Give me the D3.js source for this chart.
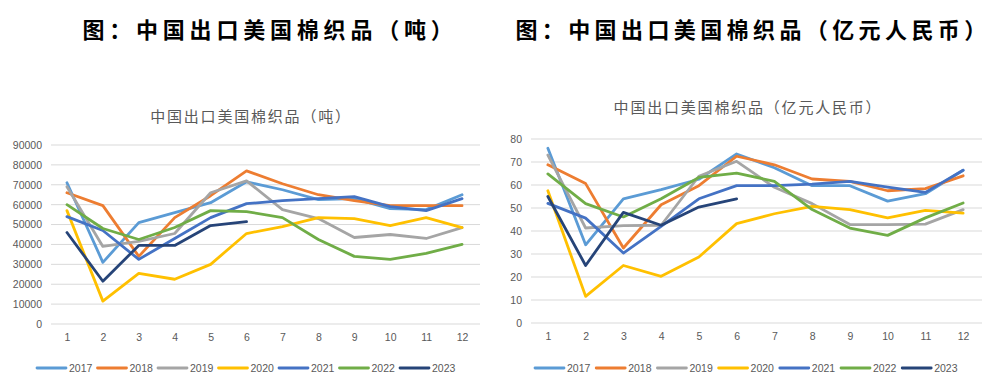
<!DOCTYPE html>
<html><head><meta charset="utf-8">
<script src="https://cdn.jsdelivr.net/npm/d3@7"></script>
<style>
html,body{margin:0;padding:0;background:#fff;}
svg{display:block;}
</style></head>
<body>
<svg id="c" width="997" height="389"></svg>
<script>
const months = [1,2,3,4,5,6,7,8,9,10,11,12];
const years = ["2017","2018","2019","2020","2021","2022","2023"];
const colors = ["#5B9BD5","#ED7D31","#A5A5A5","#FFC000","#4472C4","#70AD47","#264478"];

// 吨
const tons2017 = [71000,31000,51000,56000,61000,71500,67500,62500,63000,58000,57500,65000];
const tons2018 = [66000,59500,34000,53500,64500,77000,70500,65000,62000,59500,59500,59500];
const tons2019 = [69000,39000,41500,45500,66000,72000,57500,53000,43500,45000,43000,48500];
const tons2020 = [57000,11500,25500,22500,30000,45500,49000,53500,53000,49500,53500,48500];
const tons2021 = [54000,47000,32500,43000,53500,60500,62000,63000,64000,59000,57000,63000];
const tons2022 = [60000,48000,42500,48500,57000,56500,53500,42500,34000,32500,35500,40000];
const tons2023 = [46000,21500,39500,39500,49500,51500];
const tonTicks = [0,10000,20000,30000,40000,50000,60000,70000,80000,90000];

// 亿元人民币
const rmb2017 = [76,34,54,58,62.5,73.5,67.5,59.7,59.7,53,56.2,66.4];
const rmb2018 = [68.8,60.6,32.6,51.4,59.7,72.5,68.8,62.6,61.6,57.5,58.4,64];
const rmb2019 = [73,41.3,42.3,42.5,63.8,70.3,59,51.9,42.8,42.8,43,49.3];
const rmb2020 = [57.5,11.6,25,20.3,28.7,43.2,47.5,50.7,49.3,45.7,49,47.8];
const rmb2021 = [52,45.6,30.4,42,54,59.7,59.7,60.4,61.6,59.1,56.8,66.4];
const rmb2022 = [64.8,51.9,46.1,54,63.3,65.2,61.6,49.3,41.3,38.1,45.7,52.2];
const rmb2023 = [55,25,48.1,42.5,50.4,54];
const rmbTicks = [0,10,20,30,40,50,60,70,80];

const svg = d3.select("#c");

function drawChart(o){
  const g = svg.append("g");
  // big heading
  g.append("text").attr("x",o.headX).attr("y",38).attr("text-anchor","middle")
    .attr("font-family","'Noto Sans CJK SC'").attr("font-weight",600)
    .attr("font-size",22).attr("letter-spacing",o.headLS).attr("fill","#000").text(o.heading);
  // inner title
  g.append("text").attr("x",o.subX).attr("y",o.subY).attr("text-anchor","middle")
    .attr("font-family","'Noto Sans CJK SC'").attr("font-size",15).attr("letter-spacing",1.8)
    .attr("fill","#595959").text(o.sub);

  const x = d3.scalePoint().domain(months).range([o.x0,o.x1]).padding(0.5);
  const y = d3.scaleLinear().domain([0,o.ymax]).range([o.yb,o.yt]);

  // grid
  g.append("g").selectAll("line").data(o.ticks).join("line")
    .attr("x1",o.x0+2).attr("x2",o.x1).attr("y1",d=>y(d)).attr("y2",d=>y(d))
    .attr("stroke","#D9D9D9").attr("stroke-width",1);

  // y axis labels
  const ya = d3.axisLeft(y).tickValues(o.ticks).tickSize(0).tickPadding(0).tickFormat(d3.format("d"));
  const yg = g.append("g").attr("transform",`translate(${o.ylabX},0)`).call(ya);
  yg.select(".domain").remove();
  yg.selectAll("text").attr("font-family","'Liberation Sans'").attr("font-size",10.5).attr("fill","#595959");

  // x axis labels
  const xa = d3.axisBottom(x).tickSize(0).tickPadding(0);
  const xg = g.append("g").attr("transform",`translate(0,${o.xlabY})`).call(xa);
  xg.select(".domain").remove();
  xg.selectAll("text").attr("font-family","'Liberation Sans'").attr("font-size",10.5).attr("fill","#595959");

  const line = d3.line().x((d,i)=>x(months[i])).y(d=>y(d));
  o.series.forEach((s,i)=>{
    g.append("path").attr("d",line(s)).attr("fill","none").attr("stroke",colors[i])
      .attr("stroke-width",2.8).attr("stroke-linejoin","round").attr("stroke-linecap","round");
  });

  // legend
  const lg = g.append("g");
  years.forEach((yr,i)=>{
    const lx = o.legX + i*o.legStep;
    lg.append("line").attr("x1",lx).attr("x2",lx+29).attr("y1",368).attr("y2",368)
      .attr("stroke",colors[i]).attr("stroke-width",2.8).attr("stroke-linecap","round");
    lg.append("text").attr("x",lx+32).attr("y",372).attr("font-family","'Liberation Sans'")
      .attr("font-size",10.5).attr("fill","#595959").text(yr);
  });
}

drawChart({
  heading:"图：中国出口美国棉织品（吨）", headX:270, headLS:4.8,
  sub:"中国出口美国棉织品（吨）", subX:251, subY:122,
  x0:49, x1:480, yt:145, yb:324, ymax:90000, ticks:tonTicks, ylabX:42, xlabY:334,
  series:[tons2017,tons2018,tons2019,tons2020,tons2021,tons2022,tons2023],
  legX:37, legStep:60.5
});
drawChart({
  heading:"图：中国出口美国棉织品（亿元人民币）", headX:753, headLS:4.4,
  sub:"中国出口美国棉织品（亿元人民币）", subX:748, subY:113,
  x0:529, x1:982, yt:139, yb:323, ymax:80, ticks:rmbTicks, ylabX:522, xlabY:333,
  series:[rmb2017,rmb2018,rmb2019,rmb2020,rmb2021,rmb2022,rmb2023],
  legX:535, legStep:61.2
});
</script>
</body></html>
